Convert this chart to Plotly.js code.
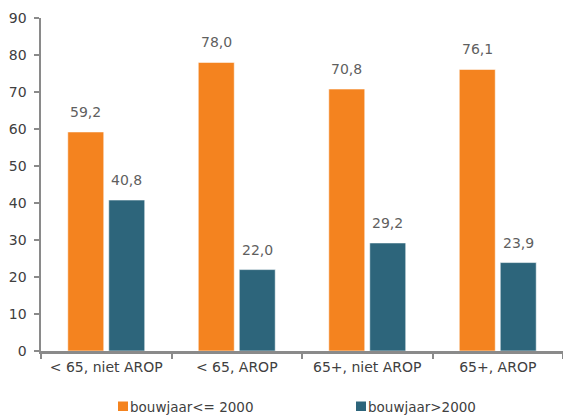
<!DOCTYPE html>
<html>
<head>
<meta charset="utf-8">
<script src="https://cdn.plot.ly/plotly-3.0.1.min.js"></script>
<style>
  html, body { margin: 0; padding: 0; background: #ffffff; }
  #chart { width: 563px; height: 416px; }
</style>
</head>
<body>
<div id="chart"></div>
<script>
// Groups on the category axis
const categories = ['< 65, niet AROP', '< 65, AROP', '65+, niet AROP', '65+, AROP'];

// Series names
const seriesNames = ['bouwjaar<= 2000', 'bouwjaar>2000'];

// Shares per group (%)
const valuesOld = [59.2, 78.0, 70.8, 76.1];
const valuesNew = [40.8, 22.0, 29.2, 23.9];

// Y axis ticks
const yTicks = [0, 10, 20, 30, 40, 50, 60, 70, 80, 90];

const colors = ['#F4831F', '#2D657B'];
const font = 'DejaVu Sans, Verdana, sans-serif';

const W = 563, H = 416;
const margin = { l: 41, r: 0, t: 18, b: 65 };
const plotW = W - margin.l - margin.r;
const plotH = H - margin.t - margin.b;

const series = [valuesOld, valuesNew];

const traces = series.map((vals, i) => ({
  type: 'bar',
  name: seriesNames[i],
  x: categories,
  y: vals,
  marker: { color: colors[i], line: { color: 'rgba(255,255,255,0.55)', width: 1 } },
  hoverinfo: 'x+y+name',
  showlegend: false
}));

// Bar centre offset inside a group, in pixels
const catW = plotW / categories.length;
const bargap = 0.372;
const slot = catW * (1 - bargap) / 2;
const fmt = v => v.toFixed(1).replace('.', ',');

const annotations = [];
series.forEach((vals, i) => {
  vals.forEach((v, j) => {
    annotations.push({
      x: categories[j], y: v, xref: 'x', yref: 'y',
      text: fmt(v), showarrow: false,
      xshift: (i === 0 ? -1 : 1) * slot / 2,
      yshift: 20, yanchor: 'middle', xanchor: 'center',
      font: { family: font, size: 14, color: '#5f5f5f' }
    });
  });
});

// Legend drawn below the axis: a small square followed by the series name
const px2x = px => (px - margin.l) / plotW;
const px2y = py => (margin.t + plotH - py) / plotH;
const legendItems = [{ sq: 118, txt: 129 }, { sq: 356, txt: 367 }];
const shapes = [];
legendItems.forEach((it, i) => {
  shapes.push({
    type: 'rect', xref: 'paper', yref: 'paper',
    x0: px2x(it.sq), x1: px2x(it.sq + 10),
    y0: px2y(411), y1: px2y(401.5),
    fillcolor: colors[i], line: { width: 0 }
  });
  annotations.push({
    xref: 'paper', yref: 'paper', x: px2x(it.txt), y: px2y(406.5),
    xanchor: 'left', yanchor: 'middle', showarrow: false, borderpad: 0,
    text: seriesNames[i],
    font: { family: font, size: 13.5, color: '#404040' }
  });
});

const layout = {
  width: W, height: H,
  margin: margin,
  paper_bgcolor: '#ffffff',
  plot_bgcolor: '#ffffff',
  barmode: 'group',
  bargap: bargap,
  bargroupgap: 0.122,
  font: { family: font, size: 14, color: '#404040' },
  xaxis: {
    type: 'category',
    showgrid: false,
    showline: true, linecolor: '#8a8a8a', linewidth: 2.5,
    ticks: 'outside', tickson: 'boundaries', ticklen: 5, tickwidth: 2, tickcolor: '#8a8a8a',
    tickfont: { family: font, size: 14, color: '#404040' },
    ticklabelstandoff: 2,
    zeroline: false, fixedrange: true
  },
  yaxis: {
    range: [0, 90],
    tickvals: yTicks,
    ticktext: yTicks.map(String),
    showgrid: false, zeroline: false,
    showline: true, linecolor: '#8a8a8a', linewidth: 2.5,
    ticks: 'outside', ticklen: 5, tickwidth: 2, tickcolor: '#8a8a8a',
    tickfont: { family: font, size: 14, color: '#404040' },
    ticklabelstandoff: 4,
    fixedrange: true
  },
  annotations: annotations,
  shapes: shapes,
  showlegend: false
};

Plotly.newPlot('chart', traces, layout, { displayModeBar: false, staticPlot: true });
</script>
</body>
</html>
